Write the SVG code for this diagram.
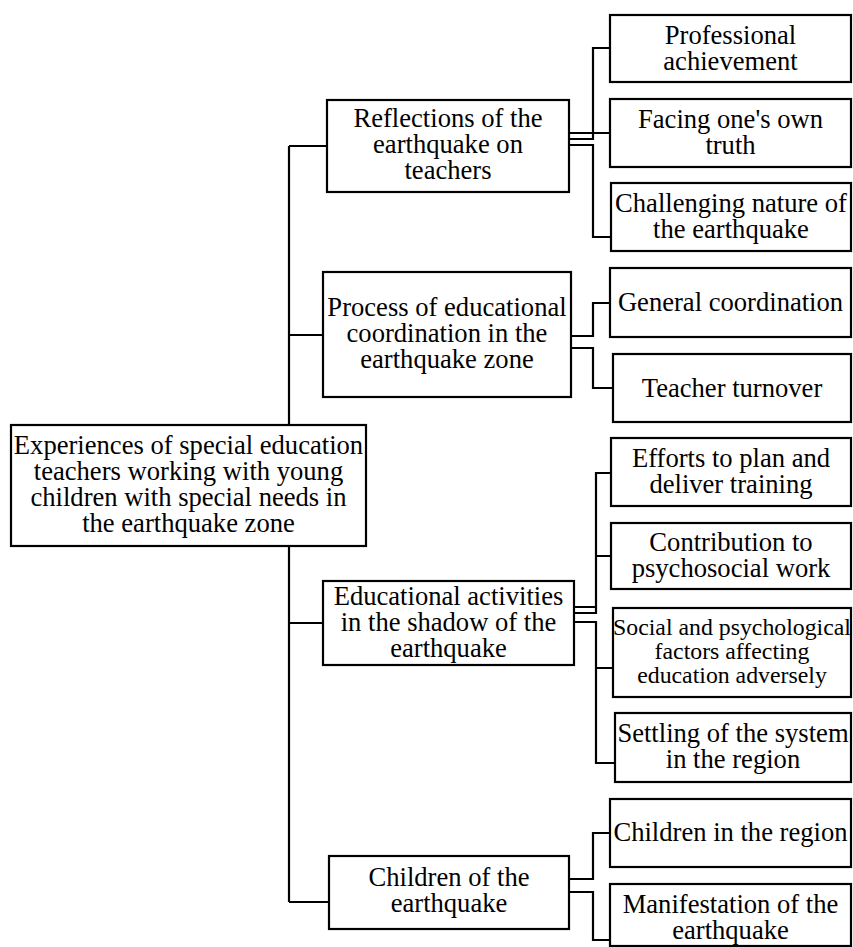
<svg xmlns="http://www.w3.org/2000/svg" width="853" height="947" viewBox="0 0 853 947">
<style>
.box{fill:#fff;stroke:#000;stroke-width:2.2}
.c{fill:none;stroke:#000;stroke-width:2.2}
text{font-size:26.6px;fill:#000;text-anchor:middle}
.s{font-size:23.8px}
</style>
<rect width="853" height="947" fill="#fff"/>
<g id="connectors">
<path class="c" d="M289 146V902M289 146H327M289 335H323M289 623H323M289 902H329"/>
<path class="c" d="M569 139H593V48H610M569 133H610M569 145H593V237H611"/>
<path class="c" d="M571 336H593V303H610M571 348H593V388H613"/>
<path class="c" d="M574 607H596V473H611M574 613H596V556H611M574 622H596V668H613M596 668V763H615"/>
<path class="c" d="M569 879H593V833H610M569 892H593V940H610"/>
</g>
<g font-family="Liberation Serif, Times New Roman, serif">
<g id="root">
<rect class="box" x="11" y="425" width="355" height="121"/>
<text x="188.5" y="454">Experiences of special education</text>
<text x="188.5" y="480">teachers working with young</text>
<text x="188.5" y="506">children with special needs in</text>
<text x="188.5" y="532">the earthquake zone</text>
</g>
<g id="reflections">
<rect class="box" x="327" y="100" width="242" height="92"/>
<text x="448" y="127">Reflections of the</text>
<text x="448" y="153">earthquake on</text>
<text x="448" y="179">teachers</text>
</g>
<g id="process">
<rect class="box" x="323" y="272" width="248" height="125"/>
<text x="447" y="316">Process of educational</text>
<text x="447" y="342">coordination in the</text>
<text x="447" y="368">earthquake zone</text>
</g>
<g id="educational">
<rect class="box" x="323" y="581" width="251" height="84"/>
<text x="448.5" y="605">Educational activities</text>
<text x="448.5" y="631">in the shadow of the</text>
<text x="448.5" y="657">earthquake</text>
</g>
<g id="children">
<rect class="box" x="329" y="856" width="240" height="73"/>
<text x="449" y="886">Children of the</text>
<text x="449" y="912">earthquake</text>
</g>
<g id="professional">
<rect class="box" x="610" y="15" width="241" height="67"/>
<text x="730.5" y="44">Professional</text>
<text x="730.5" y="70">achievement</text>
</g>
<g id="facing">
<rect class="box" x="610" y="99" width="241" height="68"/>
<text x="730.5" y="128">Facing one's own</text>
<text x="730.5" y="154">truth</text>
</g>
<g id="challenging">
<rect class="box" x="611" y="183" width="240" height="68"/>
<text x="731" y="212">Challenging nature of</text>
<text x="731" y="238">the earthquake</text>
</g>
<g id="general">
<rect class="box" x="610" y="268" width="241" height="69"/>
<text x="730.5" y="311">General coordination</text>
</g>
<g id="turnover">
<rect class="box" x="613" y="354" width="238" height="68"/>
<text x="732" y="397">Teacher turnover</text>
</g>
<g id="efforts">
<rect class="box" x="611" y="438" width="240" height="68"/>
<text x="731" y="467">Efforts to plan and</text>
<text x="731" y="493">deliver training</text>
</g>
<g id="contribution">
<rect class="box" x="611" y="523" width="240" height="66"/>
<text x="731" y="551">Contribution to</text>
<text x="731" y="577">psychosocial work</text>
</g>
<g id="social">
<rect class="box" x="613" y="608" width="238" height="89"/>
<text class="s" x="732" y="635">Social and psychological</text>
<text class="s" x="732" y="659">factors affecting</text>
<text class="s" x="732" y="683">education adversely</text>
</g>
<g id="settling">
<rect class="box" x="615" y="713" width="236" height="69"/>
<text x="733" y="742">Settling of the system</text>
<text x="733" y="768">in the region</text>
</g>
<g id="region">
<rect class="box" x="610" y="799" width="241" height="68"/>
<text x="730.5" y="841">Children in the region</text>
</g>
<g id="manifestation">
<rect class="box" x="610" y="884" width="241" height="62"/>
<text x="730.5" y="913">Manifestation of the</text>
<text x="730.5" y="939">earthquake</text>
</g>
</g>
</svg>
